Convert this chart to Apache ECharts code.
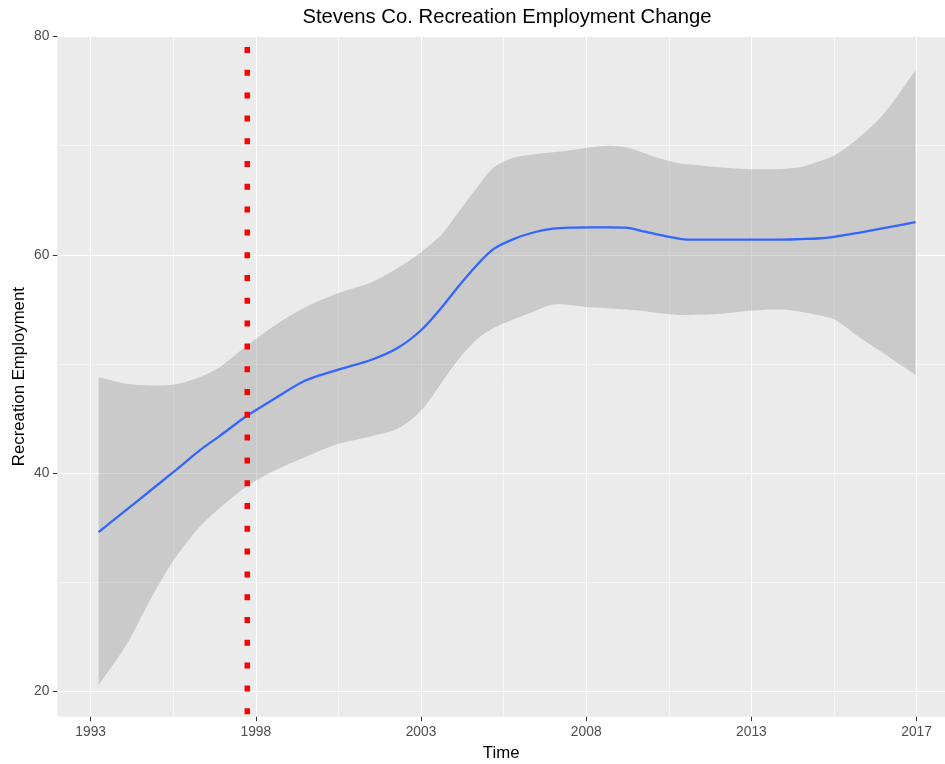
<!DOCTYPE html>
<html>
<head>
<meta charset="utf-8">
<script src="https://cdn.jsdelivr.net/npm/echarts@6/dist/echarts.min.js"></script>
<style>html,body{margin:0;padding:0;background:#fff;}#c{width:945px;height:764px;}</style>
</head>
<body>
<div id="c"></div>
<script>
// x positions (axis units; tick labels below)
var xVals = [1993.24, 1994.1, 1994.8, 1995.5, 1996.3, 1996.9, 1997.7, 1998.6, 1999.5, 2000.5, 2001.5, 2002.3, 2003.0, 2003.6, 2004.1, 2004.7, 2005.2, 2005.8, 2006.4, 2007.0, 2007.6, 2008.1, 2008.7, 2009.2, 2009.6, 2010.1, 2010.8, 2011.1, 2012.1, 2013.0, 2013.9, 2014.5, 2015.0, 2015.5, 2016.2, 2017.0, 2017.97];
var fitVals = [34.62, 36.7, 38.4, 40.1, 42.1, 43.4, 45.2, 46.9, 48.5, 49.5, 50.4, 51.5, 53.1, 55.1, 57.0, 59.1, 60.55, 61.45, 62.05, 62.4, 62.5, 62.52, 62.52, 62.5, 62.25, 61.9, 61.5, 61.4, 61.4, 61.4, 61.4, 61.45, 61.5, 61.65, 62.0, 62.45, 63.0];
var upperVals = [48.8, 48.2, 48.05, 48.1, 48.8, 49.7, 51.6, 53.6, 55.2, 56.5, 57.5, 58.8, 60.25, 61.8, 63.8, 66.2, 68.0, 68.9, 69.2, 69.4, 69.6, 69.84, 70.0, 69.85, 69.5, 68.95, 68.4, 68.3, 68.0, 67.85, 67.87, 68.05, 68.5, 69.1, 70.6, 72.9, 76.9];
var lowerVals = [20.6, 24.4, 28.4, 32.0, 35.1, 36.8, 38.75, 40.3, 41.5, 42.7, 43.4, 44.1, 45.75, 48.2, 50.3, 52.3, 53.3, 54.1, 54.8, 55.45, 55.4, 55.2, 55.1, 55.0, 54.9, 54.7, 54.5, 54.5, 54.6, 54.9, 55.0, 54.8, 54.5, 54.1, 52.6, 51.0, 49.0];
var vlineX = 1997.74;

var xTickPos = [1993, 1998, 2003, 2008, 2013, 2018];
var xTickLabels = ['1993', '1998', '2003', '2008', '2013', '2017'];
var xMinorPos = [1995.5, 2000.5, 2005.5, 2010.5, 2015.5];
var yTickPos = [20, 40, 60, 80];
var yMinorPos = [30, 50, 70];

var X_MIN = 1991.99, X_MAX = 2018.86, Y_MIN = 17.71, Y_MAX = 80;

var chart = echarts.init(document.getElementById('c'), null, {renderer: 'canvas'});
var font = 'Liberation Sans, Arial, sans-serif';

function pairs(xs, ys) { return xs.map(function (x, i) { return [x, ys[i]]; }); }
var bandData = xVals.map(function (x, i) { return [x, lowerVals[i], upperVals[i]]; });

function renderBand(params, api) {
  if (params.dataIndex !== 0) return null;
  var top = [], bottom = [];
  for (var i = 0; i < bandData.length; i++) {
    top.push(api.coord([bandData[i][0], bandData[i][2]]));
    bottom.push(api.coord([bandData[i][0], bandData[i][1]]));
  }
  bottom.reverse();
  // duplicate end points so the vertical ends stay sharp while the curves are smoothed
  var pts = [top[0]].concat(top, [top[top.length - 1]], [bottom[0]], bottom, [bottom[bottom.length - 1]]);
  return {
    type: 'group',
    children: [{
      type: 'polygon',
      shape: {points: pts, smooth: 0.3},
      style: {fill: 'rgba(153,153,153,0.4)', stroke: null}
    }]
  };
}

chart.setOption({
  animation: false,
  backgroundColor: '#ffffff',
  grid: {left: 57.3, right: 0, top: 36.5, bottom: 47.3, show: true, backgroundColor: '#EBEBEB', borderWidth: 0,
    containLabel: false, outerBoundsMode: 'none'},
  graphic: [{
    type: 'text', x: 507, y: 17,
    style: {text: 'Stevens Co. Recreation Employment Change', font: '20.3px ' + font, fill: '#000', align: 'center', verticalAlign: 'middle', textAlign: 'center', textVerticalAlign: 'middle'}
  }],
  xAxis: [{
    type: 'value', min: X_MIN, max: X_MAX,
    name: 'Time', nameLocation: 'middle', nameGap: 28,
    nameTextStyle: {fontFamily: font, fontSize: 16.8, color: '#000'},
    axisLine: {show: false},
    axisTick: {show: true, length: 4.5, customValues: xTickPos, lineStyle: {color: '#333333', width: 1}},
    axisLabel: {customValues: xTickPos, fontFamily: font, fontSize: 13.8, color: '#4D4D4D', margin: 8,
      formatter: function (v) { var i = xTickPos.indexOf(v); return i >= 0 ? xTickLabels[i] : ''; }},
    splitLine: {show: true, lineStyle: {color: '#ffffff', width: 1.1}}
  }, {
    type: 'value', min: X_MIN, max: X_MAX,
    axisLine: {show: false}, axisLabel: {show: false},
    axisTick: {show: false, customValues: xMinorPos},
    splitLine: {show: true, lineStyle: {color: '#ffffff', width: 0.55}}
  }],
  yAxis: [{
    type: 'value', min: Y_MIN, max: Y_MAX,
    name: 'Recreation Employment', nameLocation: 'middle', nameGap: 29, nameRotate: 90, nameMoveOverlap: false,
    nameTextStyle: {fontFamily: font, fontSize: 16.8, color: '#000'},
    axisLine: {show: false},
    axisTick: {show: true, length: 4.5, customValues: yTickPos, lineStyle: {color: '#333333', width: 1}},
    axisLabel: {customValues: yTickPos, fontFamily: font, fontSize: 13.8, color: '#4D4D4D', margin: 8},
    splitLine: {show: true, lineStyle: {color: '#ffffff', width: 1.1}}
  }, {
    type: 'value', min: Y_MIN, max: Y_MAX,
    axisLine: {show: false}, axisLabel: {show: false},
    axisTick: {show: false, customValues: yMinorPos},
    splitLine: {show: true, lineStyle: {color: '#ffffff', width: 0.55}}
  }],
  series: [{
    type: 'custom', name: 'band', coordinateSystem: 'cartesian2d',
    data: bandData, renderItem: renderBand, silent: true, z: 2,
    encode: {x: 0, y: [1, 2]}
  }, {
    type: 'line', name: 'fit', data: pairs(xVals, fitVals),
    symbol: 'none', smooth: 0.3, lineStyle: {color: '#3366FF', width: 2.3}, z: 3
  }, {
    type: 'line', name: 'vline', data: [[vlineX, Y_MAX], [vlineX, Y_MIN]],
    symbol: 'none', z: 4,
    lineStyle: {color: '#FF0000', width: 5.5, type: [6, 16.8], dashOffset: 12.3, cap: 'butt'}
  }]
});
</script>
</body>
</html>
